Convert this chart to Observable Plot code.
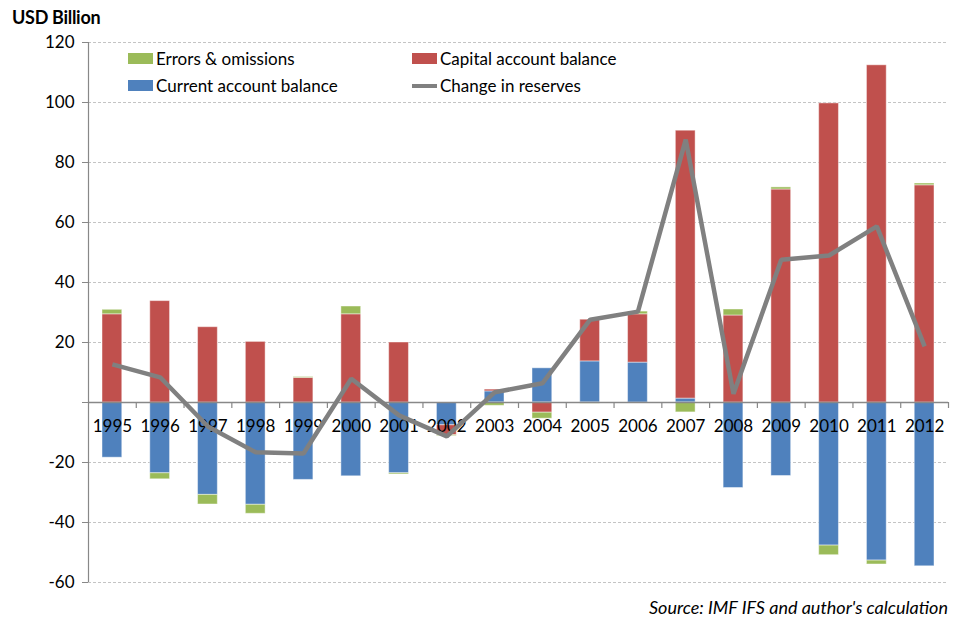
<!DOCTYPE html>
<html>
<head>
<meta charset="utf-8">
<script src="https://cdn.jsdelivr.net/npm/d3@7"></script>
<script src="https://cdn.jsdelivr.net/npm/@observablehq/plot@0.6"></script>
<style>
  html, body { margin: 0; padding: 0; background: #fff; }
  body { font-family: Lato, "Open Sans", sans-serif; }
  #wrap { position: relative; width: 953px; height: 620px; }
  #title { position: absolute; left: 12px; top: 6px; font-size: 18px; font-weight: bold; letter-spacing: -0.3px; color: #000; }
  #caption { position: absolute; right: 5px; top: 596px; font-size: 18px; font-style: italic; color: #000; }
  .leg { position: absolute; font-size: 17px; color: #000; display: flex; align-items: center; white-space: nowrap; }
  .sw { width: 25px; height: 11px; margin-right: 3px; }
  .ln { width: 25px; height: 4px; margin-right: 3px; background: #808080; }
</style>
</head>
<body>
<div id="wrap">
  <div id="chart"></div>
  <div id="title">USD Billion</div>
  <div id="legend"></div>
  <div id="caption">Source: IMF IFS and author's calculation</div>
</div>
<script>
const years = [1995, 1996, 1997, 1998, 1999, 2000, 2001, 2002, 2003, 2004, 2005, 2006, 2007, 2008, 2009, 2010, 2011, 2012];
const currentAccount = [-18.4, -23.6, -30.8, -34.1, -25.8, -24.6, -23.6, -7.6, 3.7, 11.4, 13.7, 13.3, 1.3, -28.5, -24.5, -47.7, -52.7, -54.6];
const capitalAccount = [29.4, 33.8, 25.1, 20.2, 8.2, 29.4, 20.0, -3.3, 0.6, -3.4, 13.9, 16.1, 89.3, 29.0, 71.0, 99.7, 112.4, 72.4];
const errorsOmissions = [1.5, -2.0, -3.2, -3.0, 0.3, 2.6, -0.4, -0.3, -1.1, -2.0, -0.4, 0.9, -3.3, 2.0, 0.7, -3.2, -1.3, 0.6];
const reserveChange = [12.7, 8.4, -8.0, -16.6, -17.0, 7.9, -4.3, -11.3, 3.4, 6.4, 27.6, 30.3, 87.6, 2.9, 47.6, 49.0, 58.7, 18.7];
const yTicks = [-60, -40, -20, 0, 20, 40, 60, 80, 100, 120];

const seriesNames = ["Current account balance", "Capital account balance", "Errors & omissions"];
const seriesColors = ["#4F81BD", "#C0504D", "#9BBB59"];
const seriesValues = [currentAccount, capitalAccount, errorsOmissions];

const barData = [];
seriesNames.forEach((name, s) => {
  years.forEach((yr, i) => barData.push({year: yr, series: name, value: seriesValues[s][i]}));
});
const lineData = years.map((yr, i) => ({year: yr, value: reserveChange[i]}));
const bounds = years.map(y => y + 0.5);

const font = "Lato, 'Open Sans', sans-serif";

const chart = Plot.plot({
  width: 953,
  height: 620,
  marginTop: 42,
  marginBottom: 38,
  marginLeft: 88,
  marginRight: 5,
  style: {fontFamily: font, fontSize: "17px", color: "#000", background: "#fff"},
  x: {type: "linear", domain: [years[0] - 0.5, years[years.length - 1] + 0.5], axis: null},
  y: {domain: [-60, 120], label: null},
  color: {domain: seriesNames, range: seriesColors},
  marks: [
    Plot.gridY(yTicks.filter(d => d !== 0), {stroke: "#c4c4c4", strokeOpacity: 1, strokeDasharray: "3,2", strokeWidth: 1}),
    Plot.rectY(barData, Plot.stackY({
      x1: d => d.year - 0.5,
      x2: d => d.year + 0.5,
      y: "value",
      fill: "series",
      order: seriesNames,
      insetLeft: 14,
      insetRight: 14,
      stroke: "#ffffff",
      strokeOpacity: 0.45,
      strokeWidth: 1
    })),
    Plot.ruleX([years[0] - 0.5], {stroke: "#888", strokeWidth: 1.2}),
    Plot.ruleY([0], {stroke: "#888", strokeWidth: 1.5}),
    Plot.ruleX(bounds, {y1: 0, y2: 0, insetBottom: -6, stroke: "#888", strokeWidth: 1.2}),
    Plot.axisY({ticks: yTicks, tickFormat: d => d === 0 ? "" : String(d), tickSize: 6, tickPadding: 8, stroke: "#888", fontSize: 17, fill: "#000", label: null}),
    Plot.text(years, {x: d => d, y: 0, dy: 24, text: d => String(d), fontSize: 17, fill: "#000"}),
    Plot.line(lineData, {x: "year", y: "value", stroke: "#808080", strokeWidth: 4.5, strokeLinejoin: "miter", strokeLinecap: "butt"})
  ]
});
document.getElementById("chart").appendChild(chart);

const legendItems = [
  {label: "Errors & omissions", color: "#9BBB59", left: 128, top: 48, kind: "sw"},
  {label: "Capital account balance", color: "#C0504D", left: 412, top: 48, kind: "sw"},
  {label: "Current account balance", color: "#4F81BD", left: 128, top: 75, kind: "sw"},
  {label: "Change in reserves", color: "#808080", left: 412, top: 75, kind: "ln"}
];
const leg = document.getElementById("legend");
legendItems.forEach(it => {
  const d = document.createElement("div");
  d.className = "leg";
  d.style.left = it.left + "px";
  d.style.top = it.top + "px";
  const s = document.createElement("span");
  s.className = it.kind;
  s.style.background = it.color;
  d.appendChild(s);
  const t = document.createElement("span");
  t.textContent = it.label;
  d.appendChild(t);
  leg.appendChild(d);
});
</script>
</body>
</html>
